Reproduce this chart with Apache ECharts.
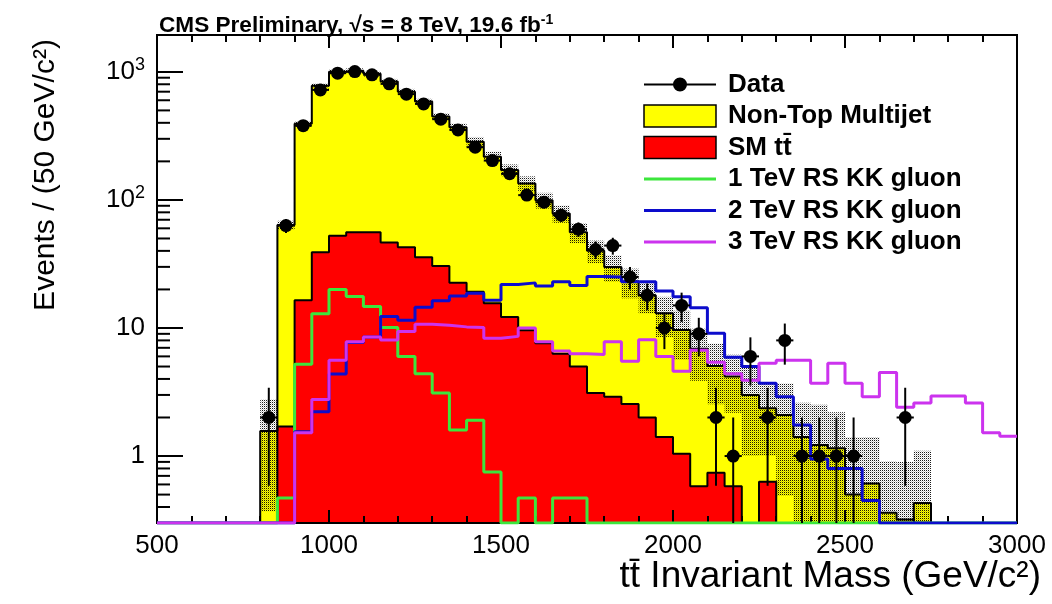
<!DOCTYPE html>
<html>
<head>
<meta charset="utf-8">
<script src="https://cdn.jsdelivr.net/npm/echarts@6/dist/echarts.min.js"></script>
<style>
  html, body { margin: 0; padding: 0; background: #fff; }
  #chart { width: 1052px; height: 604px; }
</style>
</head>
<body>
<div id="chart"></div>
<script>
// Binning: 50 bins of 50 GeV/c^2 from 500 to 3000
const binStart = 500;
const binWidth = 50;
const nBins = 50;

// Observed events per bin
const dataCounts = [
  0, 0, 0, 0, 0, 0, 2, 63, 380, 723,
  977, 1005, 948, 806, 670, 562, 427, 352, 258, 203,
  160, 109, 96, 76, 59, 41, 44, 25, 18, 10,
  15, 9, 2, 1, 6, 2, 8, 1, 1, 1,
  1, 0, 0, 2, 0, 0, 0, 0, 0, 0
];

// Standard Model ttbar expectation
const ttbar = [
  0, 0, 0, 0, 0, 0, 0, 1.7, 16.5, 39,
  52.6, 55.9, 55.9, 46.4, 42.7, 35.7, 30.5, 22.6, 19.2, 15.6,
  12.2, 9.6, 7.6, 6.3, 5.0, 3.1, 2.9, 2.55, 2.0, 1.41,
  1.04, 0.58, 0.74, 0.58, 0, 0.63, 0, 0, 0, 0,
  0, 0, 0, 0, 0, 0, 0, 0, 0, 0
];

// Non-top multijet background (stacked on top of ttbar)
const multijet = [
  0, 0, 0, 0, 0, 0, 1.57, 62, 376, 739,
  951, 964, 909, 794, 658, 550, 418, 347, 266, 202,
  159, 125, 92, 72, 51, 37, 27, 20.5, 16, 11.6,
  8.6, 6.3, 4.3, 3.6, 3.0, 1.73, 2.09, 1.41, 1.22, 1.15,
  0.5, 0.61, 0.36, 0.32, 0.43, 0, 0, 0, 0, 0
];

// Uncertainty on the total background
const bkgUnc = [
  0, 0, 0, 0, 0, 0, 1.2, 5, 20, 35,
  45, 45, 45, 40, 35, 30, 28, 25, 25, 20,
  18, 18, 14, 12, 10, 8, 7, 6, 5, 4.5,
  4, 3, 2.5, 2.0, 2.0, 1.35, 1.6, 1.2, 1.3, 1.05,
  0.9, 0.8, 0.55, 0.58, 0.67, 0, 0, 0, 0, 0
];

// RS KK gluon signal templates
const kk1TeV = [
  0, 0, 0, 0, 0, 0, 0, 0.47, 5.2, 12.9,
  20.0, 17.6, 14.7, 10.1, 6.0, 4.4, 3.1, 1.6, 1.9, 0.75,
  0, 0.47, 0, 0.47, 0.47, 0, 0, 0, 0, 0,
  0, 0, 0, 0, 0, 0, 0, 0, 0, 0,
  0, 0, 0, 0, 0, 0, 0, 0, 0, 0
];
const kk2TeV = [
  0, 0, 0, 0, 0, 0, 0, 0, 1.55, 2.22,
  4.37, 7.7, 8.5, 12.3, 11.5, 14.5, 16.3, 17.8, 18.7, 16.5,
  21.9, 22.5, 21.3, 23.0, 21.5, 25.2, 25.0, 23, 23, 19.4,
  17.5, 14.4, 9.1, 5.9, 5.0, 3.7, 2.9, 1.75, 0.95, 0.8,
  0.8, 0.45, 0, 0, 0, 0, 0, 0, 0, 0
];
const kk3TeV = [
  0, 0, 0, 0, 0, 0, 0, 0, 1.52, 2.77,
  5.6, 7.8, 8.5, 8.06, 9.4, 10.7, 10.5, 10.2, 10.1, 8.3,
  8.6, 10.0, 7.8, 6.6, 6.3, 6.2, 7.8, 5.5, 8.1, 6.0,
  4.6, 6.7, 5.4, 4.4, 3.9, 5.3, 5.6, 5.6, 3.7, 5.3,
  3.7, 2.9, 4.5, 2.4, 2.6, 2.94, 2.94, 2.6, 1.52, 1.43
];

// Axis ranges and tick labels
const xRange = [500, 3000];
const yRange = [0.3, 1940];
const yTickValues = [1, 10, 100, 1000];
const yTickLabels = ['1', '10', '10{s|2}', '10{s|3}'];
const yMinorTicks = [
  0.4, 0.5, 0.6, 0.7, 0.8, 0.9,
  2, 3, 4, 5, 6, 7, 8, 9,
  20, 30, 40, 50, 60, 70, 80, 90,
  200, 300, 400, 500, 600, 700, 800, 900
];

const FONT = '"Liberation Sans", Arial, Helvetica, sans-serif';
const COL = {
  yellow: '#ffff00', red: '#ff0000',
  green: '#3ce63c', blue: '#0c0ccc', magenta: '#cc33ee'
};

const edges = [];
for (let i = 0; i <= nBins; i++) edges.push(binStart + i * binWidth);
const total = multijet.map((v, i) => v + ttbar[i]);

// Histogram outline as a step line; empty bins sit on the bottom of the frame
function stepPoints(values) {
  const pts = values.map((v, i) => [edges[i], Math.max(v, yRange[0])]);
  pts.push([edges[nBins], Math.max(values[nBins - 1], yRange[0])]);
  return pts;
}

// Fine dot texture for the uncertainty band
function dotPattern() {
  const c = document.createElement('canvas');
  c.width = 2; c.height = 2;
  const g = c.getContext('2d');
  g.fillStyle = 'rgba(0,0,0,0.9)';
  g.fillRect(0, 0, 1, 1);
  g.fillStyle = 'rgba(0,0,0,0.22)';
  g.fillRect(1, 1, 1, 1);
  return { image: c, repeat: 'repeat' };
}
const bandFill = dotPattern();

function histFilled(name, values, color, z) {
  return {
    name, type: 'line', step: 'end', z, clip: true,
    data: stepPoints(values), symbol: 'none', silent: true,
    color,
    lineStyle: { color: '#000', width: 2 },
    areaStyle: { color, opacity: 1, origin: 'start' }
  };
}
function histLine(name, values, color, z) {
  return {
    name, type: 'line', step: 'end', z, clip: true,
    data: stepPoints(values), symbol: 'none', silent: true,
    color,
    lineStyle: { color, width: 3 }
  };
}

const tickLine = { color: '#000', width: 2 };
const chart = echarts.init(document.getElementById('chart'), null, { renderer: 'canvas' });

const option = {
  animation: false,
  backgroundColor: '#fff',
  textStyle: { fontFamily: FONT },
  title: {
    text: '{b|CMS Preliminary, \u221as = 8 TeV, 19.6 fb}{s|-1}',
    left: 154, top: 8,
    textStyle: {
      rich: {
        b: { fontSize: 22.6, fontWeight: 'bold', fontFamily: FONT, color: '#000' },
        s: { fontSize: 14, fontWeight: 'bold', fontFamily: FONT, color: '#000', padding: [0, 0, 12, 0] }
      }
    }
  },
  grid: {
    left: 157, right: 35, top: 35, bottom: 81,
    show: true, borderColor: '#000', borderWidth: 2, backgroundColor: 'transparent'
  },
  legend: {
    orient: 'vertical', left: 638, top: 66,
    itemWidth: 72, itemHeight: 22, itemGap: 4.5,
    selectedMode: false,
    textStyle: { fontSize: 26, fontWeight: 'bold', color: '#000', fontFamily: FONT, lineHeight: 27, padding: [0, 0, 0, 7] },
    data: [
      { name: 'Data', icon: 'path://M0,6 H72 M30,6 A6,6 0 1 1 42,6 A6,6 0 1 1 30,6 Z',
        itemStyle: { color: '#000', borderColor: '#000', borderWidth: 2 } },
      { name: 'Non-Top Multijet', icon: 'rect', itemStyle: { color: COL.yellow, borderColor: '#000', borderWidth: 1.5 } },
      { name: 'SM tt\u0304', icon: 'rect', itemStyle: { color: COL.red, borderColor: '#000', borderWidth: 1.5 } },
      { name: '1 TeV RS KK gluon', icon: 'path://M0,0 H72 V3 H0 Z', itemStyle: { color: COL.green, borderWidth: 0 } },
      { name: '2 TeV RS KK gluon', icon: 'path://M0,0 H72 V3 H0 Z', itemStyle: { color: COL.blue, borderWidth: 0 } },
      { name: '3 TeV RS KK gluon', icon: 'path://M0,0 H72 V3 H0 Z', itemStyle: { color: COL.magenta, borderWidth: 0 } }
    ]
  },
  xAxis: [
    {
      type: 'value', min: xRange[0], max: xRange[1], interval: 500, position: 'bottom', z: 3,
      axisLine: { show: true, lineStyle: tickLine },
      axisTick: { show: true, inside: true, length: 13, lineStyle: tickLine },
      minorTick: { show: true, splitNumber: 5, length: 7, lineStyle: tickLine },
      axisLabel: { fontSize: 26, color: '#000', margin: 10, fontFamily: FONT, formatter: (v) => String(v) },
      splitLine: { show: false }, minorSplitLine: { show: false }
    },
    {
      type: 'value', min: xRange[0], max: xRange[1], interval: 500, position: 'top', z: 3,
      axisLine: { show: true, lineStyle: tickLine },
      axisTick: { show: true, inside: true, length: 13, lineStyle: tickLine },
      minorTick: { show: true, splitNumber: 5, length: 7, lineStyle: tickLine },
      axisLabel: { show: false },
      splitLine: { show: false }, minorSplitLine: { show: false }
    }
  ],
  yAxis: {
    type: 'log', logBase: 10, min: yRange[0], max: yRange[1], z: 3,
    axisLine: { show: true, lineStyle: tickLine },
    axisTick: { show: true, inside: true, length: 26, lineStyle: tickLine },
    minorTick: { show: false },
    axisLabel: {
      fontSize: 26, color: '#000', margin: 12, fontFamily: FONT,
      showMinLabel: false, showMaxLabel: false,
      rich: {
        s: { fontSize: 18, fontFamily: FONT, color: '#000', padding: [0, 0, 14, 0] }
      },
      formatter: (v) => {
        const k = yTickValues.findIndex(t => Math.abs(Math.log10(v) - Math.log10(t)) < 1e-6);
        return k < 0 ? '' : yTickLabels[k];
      }
    },
    splitLine: { show: false }
  },
  graphic: [
    {
      type: 'text', x: 46, y: 175, rotation: Math.PI / 2, silent: true,
      style: { text: 'Events / (50 GeV/c\u00b2)', fontSize: 30, fontFamily: FONT, fill: '#000', align: 'center', verticalAlign: 'middle' }
    },
    {
      type: 'text', x: 1041, y: 577, silent: true,
      style: { text: 'tt\u0304 Invariant Mass (GeV/c\u00b2)', fontSize: 37, fontFamily: FONT, fill: '#000', align: 'right', verticalAlign: 'middle' }
    }
  ],
  series: [
    histFilled('Non-Top Multijet', total, COL.yellow, 2),
    histFilled('SM tt\u0304', ttbar, COL.red, 2),
    {
      name: 'Background uncertainty', type: 'custom', z: 2, clip: true, silent: true,
      data: total.map((t, i) => [edges[i], edges[i + 1], t, bkgUnc[i]]).filter(d => d[3] > 0),
      encode: { x: [0, 1], y: 2 },
      renderItem(params, api) {
        const lo = api.value(0), hi = api.value(1), t = api.value(2), e = api.value(3);
        const cs = params.coordSys;
        const yBottom = cs.y + cs.height;
        const p0 = api.coord([lo, t + e]);
        const x1 = api.coord([hi, t + e])[0];
        const yb = (t - e) > 0 ? Math.min(api.coord([hi, t - e])[1], yBottom) : yBottom;
        return {
          type: 'rect',
          shape: { x: p0[0], y: p0[1], width: x1 - p0[0], height: yb - p0[1] },
          style: { fill: bandFill }
        };
      }
    },
    histLine('1 TeV RS KK gluon', kk1TeV, COL.green, 4),
    histLine('2 TeV RS KK gluon', kk2TeV, COL.blue, 4),
    histLine('3 TeV RS KK gluon', kk3TeV, COL.magenta, 4),
    {
      name: 'Data', type: 'custom', z: 5, clip: true, silent: true, color: '#000',
      data: dataCounts.map((n, i) => [edges[i], edges[i + 1], n]).filter(d => d[2] > 0),
      encode: { x: [0, 1], y: 2 },
      renderItem(params, api) {
        const lo = api.value(0), hi = api.value(1), n = api.value(2);
        const err = Math.sqrt(n);
        const cs = params.coordSys;
        const yBottom = cs.y + cs.height;
        const xc = (lo + hi) / 2;
        const c = api.coord([xc, n]);
        const yUp = api.coord([xc, n + err])[1];
        const yDn = (n - err) > 0 ? Math.min(api.coord([xc, n - err])[1], yBottom) : yBottom;
        const xl = api.coord([lo, n])[0], xr = api.coord([hi, n])[0];
        const s = { stroke: '#000', lineWidth: 2 };
        return {
          type: 'group',
          children: [
            { type: 'line', shape: { x1: c[0], y1: yUp, x2: c[0], y2: yDn }, style: s },
            { type: 'line', shape: { x1: xl, y1: c[1], x2: xr, y2: c[1] }, style: s },
            { type: 'circle', shape: { cx: c[0], cy: c[1], r: 6.5 }, style: { fill: '#000' } }
          ]
        };
      }
    },
    {
      name: 'y minor ticks', type: 'custom', z: 6, clip: false, silent: true,
      data: yMinorTicks.map(v => [xRange[0], v]),
      encode: { x: 0, y: 1 },
      renderItem(params, api) {
        const p = api.coord([api.value(0), api.value(1)]);
        return {
          type: 'line',
          shape: { x1: p[0], y1: p[1], x2: p[0] + 13, y2: p[1] },
          style: { stroke: '#000', lineWidth: 2 }
        };
      }
    }
  ]
};

chart.setOption(option);
</script>
</body>
</html>
